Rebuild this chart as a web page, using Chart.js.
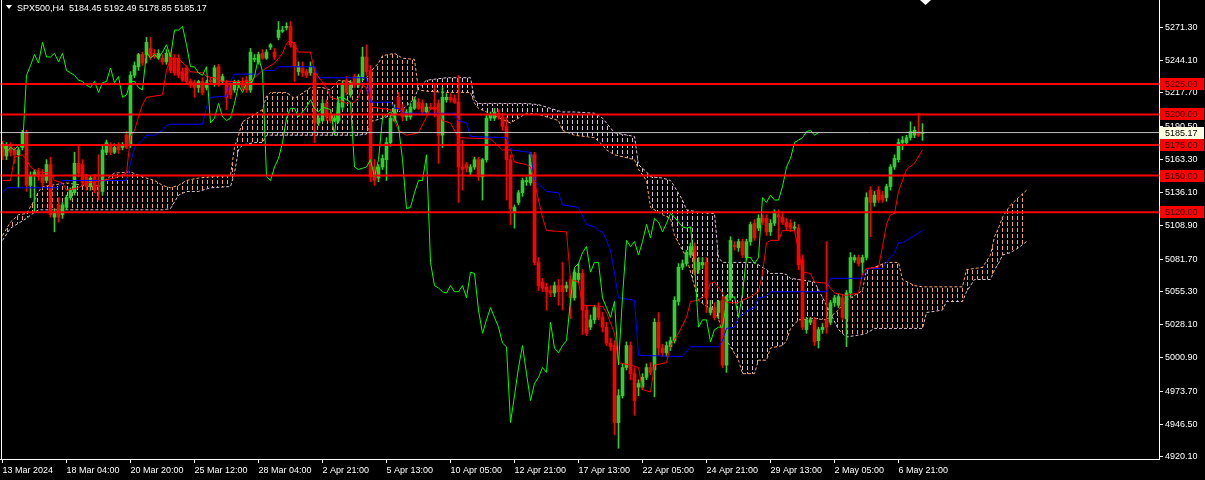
<!DOCTYPE html>
<html>
<head>
<meta charset="utf-8">
<script src="https://cdn.jsdelivr.net/npm/chart.js@4.4.1/dist/chart.umd.min.js"></script>
<style>
html, body { margin: 0; padding: 0; background: #000; }
#wrap { width: 1205px; height: 480px; }
</style>
</head>
<body>
<div id="wrap"><canvas id="chart" width="1205" height="480"></canvas></div>
<script>
const title = 'SPX500,H4  5184.45 5192.49 5178.85 5185.17';

const opens = [5176,5166,5174,5171,5167,5173,5185,5142,5150,5153,5151,5146,5159,5116,5126,5118,5124,5132,5136,5160,
  5159,5149,5141,5149,5142,5137,5169,5175,5169,5175,5173,5183,5175,5232,5239,5249,5249,5254,5250,5246,
  5246,5243,5249,5246,5246,5235,5238,5227,5226,5222,5227,5222,5228,5226,5239,5227,5226,5224,5220,5224,
  5227,5228,5220,5245,5243,5250,5246,5255,5251,5263,5268,5271,5272,5257,5235,5238,5235,5234,5234,5193,
  5195,5209,5200,5195,5195,5206,5228,5216,5231,5224,5230,5247,5236,5157,5148,5157,5163,5177,5195,5214,
  5205,5198,5198,5205,5210,5209,5202,5206,5206,5209,5183,5212,5214,5213,5210,5157,5159,5153,5157,5163,
  5149,5163,5197,5197,5201,5198,5190,5163,5120,5128,5136,5145,5144,5167,5079,5063,5059,5056,5054,5060,
  5060,5058,5065,5050,5065,5070,5040,5026,5032,5042,5034,5026,5013,5011,4948,4970,4993,5011,4988,4977,
  4977,4985,4993,4991,5030,5009,5005,5010,5015,5047,5075,5078,5085,5092,5073,5077,5079,5038,5042,5038,
  5048,4995,5050,5093,5091,5096,5083,5096,5111,5107,5115,5115,5104,5111,5118,5116,5112,5111,5107,5107,
  5081,5024,5030,5032,5015,5024,5032,5030,5046,5044,5050,5033,5054,5081,5083,5079,5083,5138,5128,5138,
  5134,5132,5141,5157,5163,5177,5177,5181,5183,5186,5184.45];
const highs = [5178,5177,5177,5173,5173,5187,5187,5153,5155,5156,5155,5163,5165,5123,5132,5128,5134,5140,5169,5175,
  5163,5151,5150,5151,5167,5175,5179,5177,5176,5177,5177,5186,5235,5243,5250,5251,5263,5263,5253,5253,
  5249,5253,5251,5249,5249,5238,5240,5229,5228,5228,5230,5228,5230,5240,5241,5233,5228,5227,5228,5228,
  5230,5231,5254,5249,5251,5253,5253,5258,5254,5276,5272,5275,5276,5259,5243,5243,5237,5243,5239,5200,
  5212,5212,5202,5200,5212,5227,5231,5228,5233,5233,5255,5257,5240,5163,5159,5167,5181,5200,5208,5218,
  5208,5204,5209,5214,5213,5212,5209,5209,5224,5212,5222,5217,5217,5216,5232,5179,5161,5159,5165,5165,
  5164,5200,5202,5205,5204,5201,5198,5167,5126,5138,5148,5149,5169,5169,5083,5066,5062,5060,5063,5065,
  5079,5063,5068,5073,5078,5073,5044,5036,5044,5046,5038,5030,5017,5015,4975,4996,5014,5014,4993,4983,
  4988,4996,4997,5033,5038,5012,5014,5018,5051,5078,5081,5089,5095,5095,5083,5083,5083,5048,5046,5048,
  5051,5052,5100,5096,5098,5098,5098,5112,5114,5118,5118,5118,5114,5122,5122,5119,5115,5114,5112,5110,
  5085,5034,5034,5034,5026,5029,5096,5048,5052,5053,5052,5056,5087,5085,5085,5085,5136,5141,5137,5141,
  5137,5143,5159,5167,5180,5182,5183,5194,5190,5201,5192.49];
const lows = [5163,5163,5166,5160,5140,5171,5137,5132,5120,5146,5141,5144,5116,5104,5112,5115,5122,5130,5134,5149,
  5142,5138,5138,5136,5130,5134,5167,5167,5168,5168,5171,5172,5173,5230,5236,5240,5242,5245,5246,5245,
  5241,5241,5234,5232,5230,5227,5225,5222,5214,5218,5216,5220,5225,5223,5223,5225,5204,5213,5218,5222,
  5220,5218,5218,5243,5241,5245,5245,5253,5245,5261,5267,5269,5255,5227,5232,5231,5230,5232,5177,5191,
  5194,5195,5193,5194,5193,5204,5216,5214,5222,5222,5228,5232,5145,5142,5145,5155,5146,5174,5194,5204,
  5195,5195,5196,5204,5204,5200,5200,5204,5198,5160,5173,5210,5210,5209,5128,5138,5153,5150,5155,5146,
  5130,5161,5195,5195,5196,5187,5130,5110,5107,5126,5133,5142,5142,5077,5056,5055,5040,5051,5051,5044,
  5040,5055,5033,5048,5062,5020,5019,5024,5029,5032,5022,5011,5007,4938,4927,4968,4991,4983,4954,4970,
  4975,4983,4987,4969,5003,5002,5002,5007,5013,5044,5073,5076,5083,5069,5070,5074,5038,5036,5032,5033,
  4993,4989,5048,5089,5088,5083,5081,5093,5097,5105,5110,5101,5101,5109,5097,5110,5105,5104,5105,5073,
  5024,5021,5028,5011,5009,5021,5021,5028,5043,5042,5032,5010,5051,5079,5076,5069,5081,5100,5125,5128,
  5128,5129,5138,5155,5161,5171,5175,5179,5181,5182,5178.85];
const closes = [5166,5174,5169,5167,5171,5185,5142,5150,5153,5149,5144,5159,5118,5120,5116,5126,5132,5138,5160,5152,
  5144,5141,5148,5138,5141,5171,5177,5169,5173,5171,5175,5173,5232,5240,5249,5242,5259,5247,5247,5250,
  5243,5250,5236,5234,5232,5228,5227,5224,5222,5227,5218,5226,5227,5238,5226,5231,5214,5216,5227,5227,
  5222,5220,5251,5246,5249,5246,5251,5257,5247,5269,5269,5272,5257,5239,5239,5234,5232,5239,5193,5197,
  5209,5198,5195,5197,5209,5224,5218,5226,5224,5231,5247,5235,5149,5146,5157,5164,5177,5197,5205,5205,
  5198,5202,5206,5212,5205,5202,5206,5205,5204,5183,5214,5214,5212,5210,5157,5155,5156,5157,5163,5149,
  5163,5197,5200,5202,5198,5190,5163,5123,5124,5136,5146,5146,5167,5079,5060,5058,5055,5054,5060,5055,
  5055,5060,5050,5071,5070,5040,5021,5032,5042,5034,5026,5013,5010,4948,4970,4993,5011,4988,4966,4980,
  4985,4993,4989,5030,5009,5005,5011,5015,5048,5075,5078,5087,5092,5071,5079,5079,5050,5042,5034,5047,
  4995,5051,5097,5092,5096,5085,5096,5110,5099,5115,5112,5104,5111,5119,5116,5112,5108,5107,5108,5077,
  5026,5032,5032,5014,5024,5026,5026,5046,5050,5051,5034,5054,5083,5083,5078,5083,5132,5128,5134,5130,
  5130,5141,5157,5164,5177,5179,5181,5186,5187,5183,5185.17];

const tenkanIdx = [0,2,3,5,6,7,9,12,13,15,16,19,21,25,28,31,32,33,34,35,36,40,41,42,44,46,47,50,51,53,
  55,62,65,68,70,71,72,73,74,77,78,81,82,84,86,88,89,90,91,92,97,98,99,101,104,106,107,109,110,112,
  114,122,123,125,127,128,131,132,133,134,135,136,141,142,144,145,150,151,153,154,157,159,160,162,163,166,167,169,171,172,
  174,176,177,178,180,181,184,185,187,189,190,191,192,194,195,198,199,200,202,203,206,208,211,214,215,216,219,220,221,222,
  223,224,226,228,230];
const tenkanVal = [5146,5146,5165,5167,5163,5157,5153,5152,5146,5144,5138,5140,5144,5146,5148,5152,5182,5187,5198,5208,
  5214,5216,5236,5245,5246,5239,5235,5234,5231,5230,5227,5227,5236,5242,5250,5258,5261,5257,5251,5251,
  5235,5222,5214,5212,5209,5210,5214,5224,5222,5206,5204,5195,5187,5183,5185,5198,5205,5205,5195,5193,
  5181,5180,5177,5171,5171,5161,5159,5157,5145,5130,5116,5105,5104,5065,5063,5044,5043,5038,5021,4997,
  4995,4993,4975,4973,4995,4997,5011,5021,5034,5047,5048,5054,5062,5063,5054,5046,5046,5048,5051,5055,
  5070,5095,5097,5097,5105,5105,5089,5071,5070,5063,5062,5054,5052,5054,5070,5074,5075,5092,5110,5118,
  5119,5137,5155,5160,5171];

const kijunIdx = [0,1,14,15,31,32,33,35,36,38,40,41,42,50,51,52,56,57,58,64,65,68,69,78,79,91,92,97,98,99,
  100,113,114,116,117,126,127,132,133,136,139,140,144,146,148,149,150,151,152,153,154,158,159,170,172,179,180,181,183,184,
  187,188,189,191,192,206,207,215,216,217,220,221,222,223,224,225,226,228,230];
const kijunVal = [5136,5140,5140,5146,5146,5160,5173,5179,5183,5183,5187,5191,5192,5192,5206,5214,5215,5227,5233,5233,
  5236,5236,5239,5239,5230,5230,5210,5210,5205,5205,5201,5201,5195,5193,5182,5181,5171,5169,5146,5137,
  5136,5126,5124,5110,5108,5105,5104,5097,5089,5070,5050,5048,5003,5002,5010,5010,5015,5025,5026,5034,
  5041,5042,5050,5051,5055,5055,5066,5066,5073,5074,5074,5079,5083,5087,5095,5095,5097,5101,5105];

const cloudIdx = [0,2,4,6,8,9,10,16,22,24,28,32,35,38,40,42,44,46,49,52,57,58,59,60,63,65,66,67,71,73,
  77,80,82,84,89,91,92,94,95,98,100,103,104,106,111,117,118,119,127,131,134,139,140,143,148,150,151,153,158,159,
  161,162,165,167,168,170,171,174,178,179,180,184,185,188,189,191,192,195,196,197,199,203,206,209,211,215,216,218,221,224,
  225,228,230,231,235,236,240,241,243,245,247,248,249,250,252,254,256];
const spanA = [5101,5112,5118,5119,5130,5137,5141,5144,5141,5142,5152,5153,5149,5146,5142,5140,5142,5146,5148,5149,
  5150,5173,5183,5194,5200,5204,5215,5218,5218,5213,5222,5222,5220,5228,5226,5230,5235,5242,5248,5250,
  5246,5245,5220,5219,5218,5218,5209,5205,5193,5201,5200,5195,5187,5183,5181,5175,5171,5167,5163,5155,
  5146,5124,5118,5115,5101,5089,5083,5048,5038,5033,5021,4999,4988,4988,4999,4999,5009,5011,5015,5025,
  5032,5033,5032,5040,5048,5056,5073,5075,5079,5079,5065,5060,5059,5059,5059,5059,5059,5073,5074,5075,
  5085,5100,5107,5116,5126,5132,5138];
const spanB = [5097,5107,5111,5115,5120,5122,5122,5122,5122,5122,5122,5122,5122,5122,5122,5123,5134,5137,5137,5140,
  5141,5152,5171,5175,5177,5177,5183,5183,5183,5183,5183,5183,5183,5183,5183,5184,5194,5196,5197,5200,
  5204,5213,5222,5228,5230,5230,5212,5209,5209,5209,5208,5203,5202,5202,5201,5197,5193,5185,5182,5159,
  5153,5149,5148,5146,5141,5130,5122,5120,5119,5083,5079,5079,5079,5079,5077,5073,5070,5070,5069,5066,
  5065,5063,5044,5024,5018,5020,5021,5025,5025,5025,5025,5025,5025,5038,5040,5047,5047,5055,5065,5065,
  5065,5073,5078,5085,5087,5091,5096];

const dateTickIdx = [0,16,32,48,64,80,96,112,128,144,160,176,192,208,224];
const dateLabels = ['13 Mar 2024','18 Mar 04:00','20 Mar 20:00','25 Mar 12:00','28 Mar 04:00','2 Apr 21:00',
  '5 Apr 13:00','10 Apr 05:00','12 Apr 21:00','17 Apr 13:00','22 Apr 05:00','24 Apr 21:00','29 Apr 13:00',
  '2 May 05:00','6 May 21:00'];
const priceTicks = [5271.30,5244.10,5217.70,5190.50,5163.30,5136.10,5108.90,5081.70,5055.30,5028.10,5000.90,4973.70,4946.50,4920.10];
const levels = [5225, 5200, 5175, 5150, 5120];
const bid = 5185.17;

const xMin = -0.625, xMax = 289.125;
const yMin = 4918.2, yMax = 5293.6;
const bull = '#32cd32', bear = '#ff0000';
const font = { family: 'Liberation Sans', size: 9 };

const canvas = document.getElementById('chart');
const ctx = canvas.getContext('2d');

// vertical dotted hatch like the terminal draws inside the cloud
function hatch(color) {
  const c = document.createElement('canvas');
  c.width = 5; c.height = 6;
  const g = c.getContext('2d');
  g.fillStyle = color;
  g.fillRect(2, 0, 1, 4);
  return ctx.createPattern(c, 'repeat');
}

const pts = (xs, ys) => xs.map((x, k) => ({ x: x, y: ys[k] }));
const candleColor = c => closes[c.dataIndex] >= opens[c.dataIndex] ? bull : bear;

const lineBase = { type: 'line', pointRadius: 0, borderWidth: 1, fill: false, tension: 0 };

const datasets = [
  Object.assign({}, lineBase, {
    data: pts(cloudIdx, spanA), borderColor: '#f4a460', borderDash: [3, 2], order: 10,
    fill: { target: 1, above: hatch('#f4a460'), below: hatch('#d8bfd8') }
  }),
  Object.assign({}, lineBase, {
    data: pts(cloudIdx, spanB), borderColor: '#d8bfd8', borderDash: [3, 2], order: 10
  }),
  {
    type: 'bar', data: closes.map((v, i) => ({ x: i, y: [lows[i], highs[i]] })),
    backgroundColor: candleColor, barThickness: 1, grouped: false, order: 9
  },
  {
    type: 'bar', data: closes.map((v, i) => ({ x: i, y: [opens[i], v] })),
    backgroundColor: candleColor, barThickness: 3, minBarLength: 1, grouped: false, order: 8
  },
  Object.assign({}, lineBase, {
    data: closes.slice(26).map((v, k) => ({ x: k, y: v })), borderColor: '#00ff00', order: 5
  }),
  Object.assign({}, lineBase, { data: pts(tenkanIdx, tenkanVal), borderColor: '#ff0000', order: 5 }),
  Object.assign({}, lineBase, { data: pts(kijunIdx, kijunVal), borderColor: '#0000ff', order: 5 }),
  Object.assign({}, lineBase, {
    data: [{ x: xMin, y: bid }, { x: xMax, y: bid }], borderColor: '#c0c0c0', order: 3
  })
].concat(levels.map(v => Object.assign({}, lineBase, {
  data: [{ x: xMin, y: v }, { x: xMax, y: v }], borderColor: '#ff0000', borderWidth: 2, order: 2
})));

const decorations = {
  id: 'decorations',
  afterDraw(chart) {
    const c = chart.ctx;
    const y = chart.scales.y;
    const area = chart.chartArea;
    c.save();
    c.fillStyle = '#ffffff';
    c.fillRect(1, area.top, 1, area.bottom - area.top);

    c.font = '9px "Liberation Sans"';
    c.textBaseline = 'middle';
    levels.forEach(v => {
      const py = y.getPixelForValue(v);
      c.fillStyle = '#ff0000';
      c.fillRect(area.right + 1, Math.round(py) - 6, 44, 12);
      c.fillStyle = '#330000';
      c.fillText(v.toFixed(2), area.right + 6, py + 0.5);
    });
    const by = y.getPixelForValue(bid);
    c.fillStyle = '#ffffe0';
    c.fillRect(area.right + 1, Math.round(by) - 6, 44, 12);
    c.fillStyle = '#000000';
    c.fillText(bid.toFixed(2), area.right + 6, by + 0.5);

    c.fillStyle = '#ffffff';
    c.textBaseline = 'alphabetic';
    c.fillText(title, 17, 11);
    c.beginPath();
    c.moveTo(6, 5); c.lineTo(12, 5); c.lineTo(9, 9); c.closePath(); c.fill();
    c.beginPath();
    c.moveTo(920, 0); c.lineTo(931, 0); c.lineTo(925.5, 5); c.closePath(); c.fill();
    c.restore();
  }
};

new Chart(canvas, {
  type: 'bar',
  data: { datasets: datasets },
  options: {
    responsive: false,
    animation: false,
    devicePixelRatio: 1,
    events: [],
    layout: { padding: 0 },
    plugins: { legend: { display: false }, tooltip: { enabled: false } },
    scales: {
      x: {
        type: 'linear', min: xMin, max: xMax, offset: false,
        afterBuildTicks: s => { s.ticks = dateTickIdx.map(v => ({ value: v })); },
        afterFit: s => { s.height = 21; s.paddingLeft = 0; s.paddingRight = 0; },
        ticks: {
          color: '#ffffff', font: font, padding: 2, align: 'start', maxRotation: 0, autoSkip: false,
          callback: v => dateLabels[dateTickIdx.indexOf(v)]
        },
        grid: { drawOnChartArea: false, color: '#ffffff', tickLength: 4, offset: false },
        border: { color: '#ffffff' }
      },
      y: {
        position: 'right', min: yMin, max: yMax,
        afterBuildTicks: s => { s.ticks = priceTicks.map(v => ({ value: v })); },
        afterFit: s => { s.width = 46; s.paddingTop = 0; s.paddingBottom = 0; },
        ticks: { color: '#ffffff', font: font, padding: 2, autoSkip: false, callback: v => v.toFixed(2) },
        grid: { drawOnChartArea: false, color: '#ffffff', tickLength: 4 },
        border: { color: '#ffffff' }
      }
    }
  },
  plugins: [decorations]
});
</script>
</body>
</html>
